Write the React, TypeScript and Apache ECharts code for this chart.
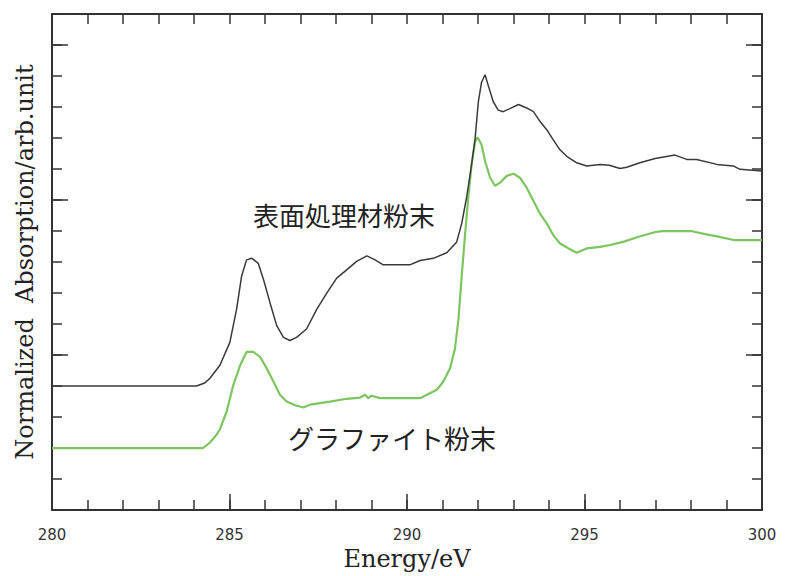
import React, { useEffect, useRef } from "react";
import * as echarts from "echarts";

const energyA = [280, 284.07, 284.3, 284.45, 284.73, 285.01, 285.2, 285.34, 285.48, 285.63, 285.81, 285.96, 286.14, 286.33, 286.52, 286.7, 286.89, 287.17, 287.46, 287.74, 288.02, 288.3, 288.58, 288.87, 289.1, 289.33, 289.71, 290.08, 290.37, 290.74, 291.12, 291.4, 291.54, 291.68, 291.82, 291.92, 292.01, 292.1, 292.2, 292.29, 292.43, 292.57, 292.71, 292.9, 293.14, 293.37, 293.56, 293.75, 293.94, 294.12, 294.31, 294.5, 294.78, 295.06, 295.44, 295.7, 296.0, 296.19, 296.56, 296.99, 297.55, 297.88, 298.16, 298.73, 299.19, 299.38, 300.0];
const absA = [4.0, 4.0, 4.1, 4.25, 4.67, 5.41, 6.48, 7.54, 8.07, 8.12, 7.96, 7.43, 6.69, 5.95, 5.57, 5.47, 5.57, 5.84, 6.48, 7.0, 7.48, 7.75, 8.02, 8.2, 8.07, 7.91, 7.91, 7.91, 8.05, 8.12, 8.3, 8.65, 9.24, 10.09, 11.15, 12.0, 13.17, 13.8, 14.04, 13.69, 13.17, 12.9, 12.85, 12.95, 13.08, 12.97, 12.85, 12.53, 12.26, 11.94, 11.62, 11.41, 11.2, 11.1, 11.15, 11.12, 11.02, 11.06, 11.2, 11.34, 11.45, 11.31, 11.31, 11.15, 11.1, 10.99, 10.94];

const energyB = [280, 284.25, 284.45, 284.64, 284.73, 284.92, 285.11, 285.3, 285.48, 285.67, 285.86, 286.05, 286.24, 286.42, 286.61, 286.85, 287.08, 287.27, 287.83, 288.3, 288.68, 288.82, 288.91, 289.0, 289.24, 290.37, 290.56, 290.84, 291.02, 291.21, 291.35, 291.45, 291.54, 291.63, 291.72, 291.82, 291.92, 291.99, 292.1, 292.2, 292.34, 292.48, 292.62, 292.81, 293.0, 293.18, 293.37, 293.56, 293.75, 293.94, 294.12, 294.31, 294.55, 294.78, 295.06, 295.44, 295.72, 296.09, 296.5, 297.0, 297.2, 298.0, 298.4, 298.8, 299.2, 300.0];
const absB = [2.0, 2.0, 2.18, 2.44, 2.6, 3.18, 4.04, 4.67, 5.1, 5.1, 4.94, 4.57, 4.14, 3.72, 3.5, 3.38, 3.31, 3.4, 3.5, 3.59, 3.63, 3.72, 3.61, 3.69, 3.61, 3.61, 3.72, 3.88, 4.14, 4.57, 5.2, 6.16, 7.54, 8.81, 10.0, 11.15, 11.89, 12.02, 11.78, 11.25, 10.72, 10.46, 10.56, 10.78, 10.85, 10.72, 10.4, 9.98, 9.55, 9.24, 8.87, 8.6, 8.44, 8.3, 8.44, 8.49, 8.55, 8.65, 8.81, 8.97, 9.0, 9.0, 8.9, 8.81, 8.71, 8.71];

const labelA = "表面処理材粉末";
const labelB = "グラファイト粉末";
const xName = "Energy/eV";
const yName = "Normalized  Absorption/arb.unit";

export default function App() {
  const ref = useRef<HTMLDivElement>(null);
  useEffect(() => {
    if (!ref.current) return;
    const chart = echarts.init(ref.current, null, { renderer: "svg" });
    const lineStyle = { color: "#333", width: 2 };
    const tickColor = "#333";
    const serif = '"DejaVu Serif", serif';
    const tick = (length: number) => ({
      show: true, inside: true, length, lineStyle: { color: tickColor, width: 1.5 },
    });
    const minorY = (position: string, withName: boolean) => ({
      type: "value", min: 0, max: 16, interval: 1, position,
      axisLine: { show: true, onZero: false, lineStyle },
      axisTick: tick(10),
      axisLabel: { show: false }, splitLine: { show: false },
      ...(withName
        ? {
            name: yName, nameLocation: "middle", nameGap: 15, nameRotate: 90,
            nameTextStyle: { fontFamily: serif, fontSize: 24, color: "#222" },
          }
        : {}),
    });
    // major-tick axis: same scale shifted so majors (3, 8, 13 of 0..16) fall on multiples of 5
    const majorY = (position: string) => ({
      type: "value", min: -3, max: 13, interval: 5, position,
      axisLine: { show: false, onZero: false },
      axisTick: tick(16),
      axisLabel: { show: false }, splitLine: { show: false },
    });
    chart.setOption({
      animation: false,
      backgroundColor: "#fff",
      grid: { left: 52, right: 24, top: 14, bottom: 59, containLabel: false },
      xAxis: [
        {
          type: "value", min: 280, max: 300, interval: 5, position: "bottom",
          axisLine: { show: true, onZero: false, lineStyle },
          axisTick: tick(16),
          axisLabel: { show: true, margin: 17, color: "#333", fontFamily: "DejaVu Sans", fontSize: 15 },
          splitLine: { show: false },
          name: xName, nameLocation: "middle", nameGap: 33,
          nameTextStyle: { fontFamily: serif, fontSize: 24, color: "#222" },
        },
        {
          type: "value", min: 280, max: 300, interval: 1, position: "bottom",
          axisLine: { show: false, onZero: false },
          axisTick: tick(10),
          axisLabel: { show: false }, splitLine: { show: false },
        },
        {
          type: "value", min: 280, max: 300, interval: 1, position: "top",
          axisLine: { show: true, onZero: false, lineStyle },
          axisTick: tick(10),
          axisLabel: { show: false }, splitLine: { show: false },
        },
      ],
      yAxis: [minorY("left", true), majorY("left"), minorY("right", false), majorY("right")],
      series: [
        {
          type: "line", xAxisIndex: 0, yAxisIndex: 0, showSymbol: false, symbol: "none",
          data: energyA.map((e, i) => [e, absA[i]]),
          lineStyle: { color: "#3a3a3a", width: 1.5 }, z: 3,
        },
        {
          type: "line", xAxisIndex: 0, yAxisIndex: 0, showSymbol: false, symbol: "none",
          data: energyB.map((e, i) => [e, absB[i]]),
          lineStyle: { color: "#7cc560", width: 2.2 }, z: 2,
        },
      ],
      graphic: [
        {
          type: "text", left: 253, top: 201,
          style: { text: labelA, font: '26px "Noto Sans CJK JP"', fill: "#222" },
        },
        {
          type: "text", left: 288, top: 424,
          style: { text: labelB, font: '26px "Noto Sans CJK JP"', fill: "#222" },
        },
      ],
    });
    return () => chart.dispose();
  }, []);
  return (
    <div
      ref={ref}
      style={{ position: "fixed", left: 0, top: 0, width: 786, height: 576 }}
    />
  );
}
